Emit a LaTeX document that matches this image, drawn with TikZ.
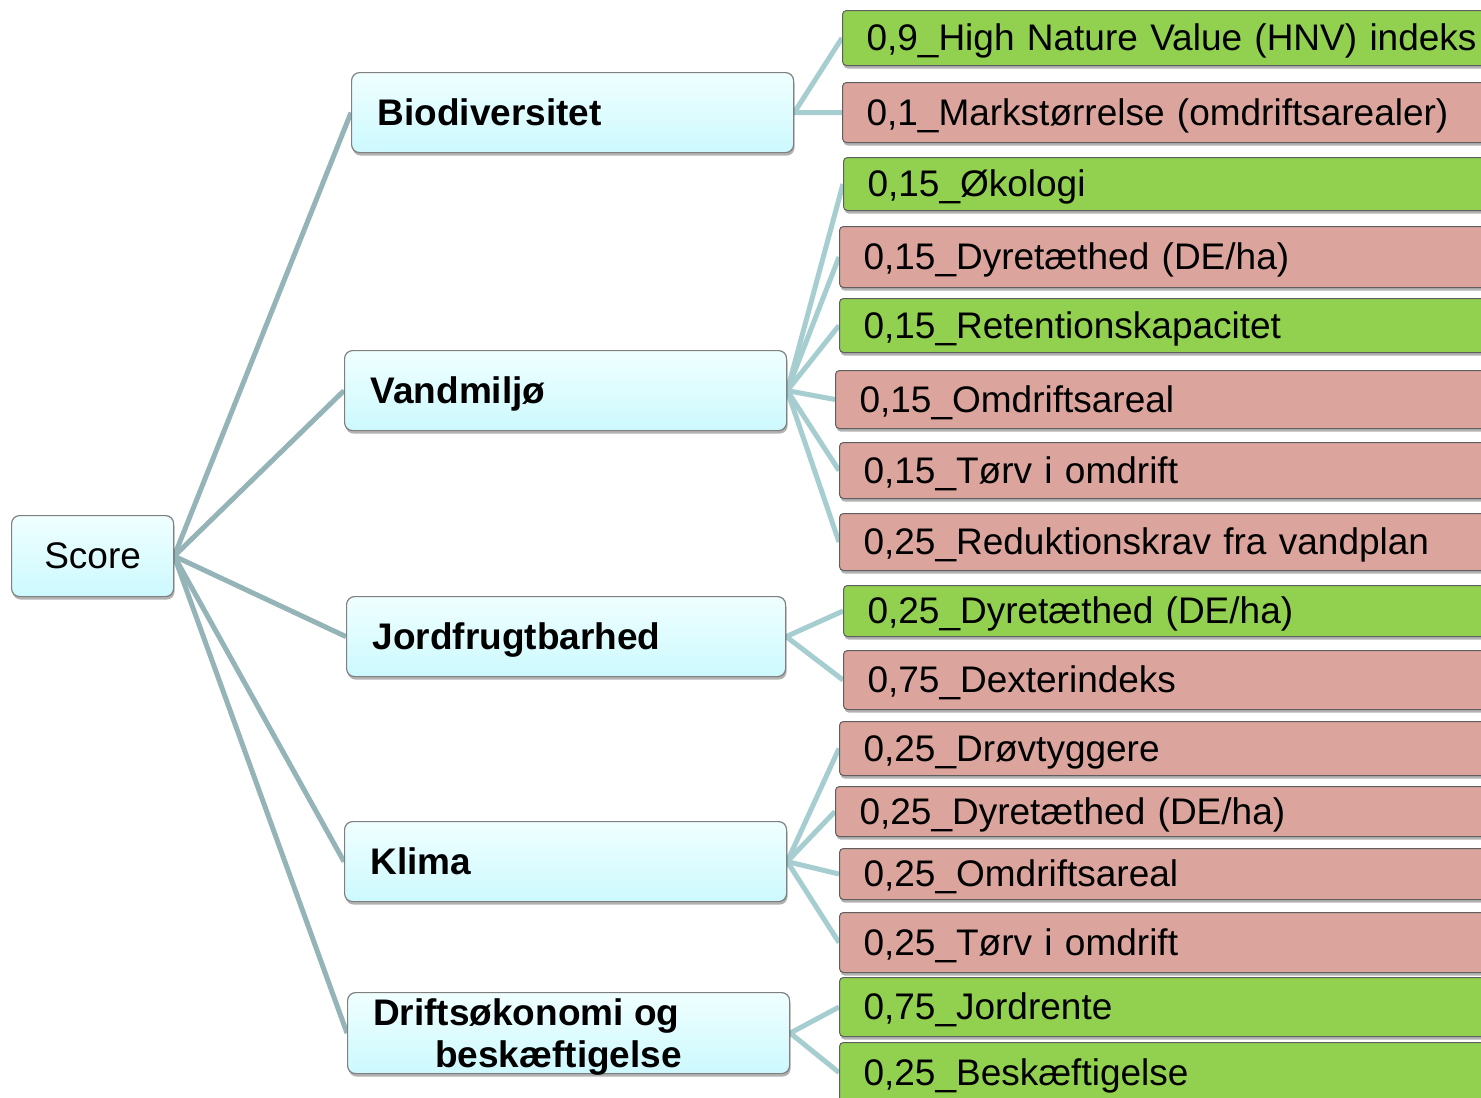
\documentclass[tikz,border=0pt]{standalone}
\usepackage{fontspec}
\setmainfont{Liberation Sans}
\usetikzlibrary{shadows}
\definecolor{cyantop}{RGB}{240,255,255}
\definecolor{cyanbot}{RGB}{204,249,254}
\definecolor{boxborder}{RGB}{128,128,128}
\definecolor{leafborder}{RGB}{95,95,95}
\definecolor{leafgreen}{RGB}{146,208,80}
\definecolor{leafred}{RGB}{219,164,156}
\definecolor{rootcol}{RGB}{149,180,183}
\definecolor{leafcol}{RGB}{166,205,208}
\pgfdeclarelayer{bg}
\pgfsetlayers{bg,main}
\begin{document}
\begin{tikzpicture}[x=1pt,y=-1pt,
  txt/.style={font=\fontsize{37}{42}\selectfont},
  shad/.style={drop shadow={shadow xshift=1pt,shadow yshift=-3pt,opacity=0.3,fill=black}},
  midbox/.style={shad,draw=boxborder,line width=1.2pt,rounded corners=8pt,
    top color=cyantop,bottom color=cyanbot,minimum height=80pt,anchor=north west,
    inner ysep=0pt,align=left,txt,font=\fontsize{37}{42}\selectfont\bfseries,
    text height=30pt,text depth=5pt},
  leaf/.style={shad,draw=leafborder,line width=1pt,rounded corners=4pt,
    anchor=north west,inner xsep=24pt,inner ysep=0pt,text width=672pt,
    minimum width=720pt,align=left,txt,text height=30pt,text depth=5pt},
  gleaf/.style={leaf,fill=leafgreen},
  rleaf/.style={leaf,fill=leafred},
  rootline/.style={draw=rootcol,line width=5pt},
  leafline/.style={draw=leafcol,line width=5pt},
  plaintxt/.style={txt,font=\fontsize{37}{42}\selectfont\bfseries,inner sep=0pt,anchor=base west}
]
\clip (0,0) rectangle (1481,1098);

% root
\node[midbox,minimum width=162pt,minimum height=81pt,align=center,inner xsep=0pt,
  font=\fontsize{37}{42}\selectfont,text width=162pt] (score) at (11,515) {Score};

% middle
\node[midbox,minimum width=442pt,text width=390pt,inner xsep=26pt] (bio) at (351,72) {Biodiversitet};
\node[midbox,minimum width=442pt,text width=390pt,inner xsep=25pt] (van) at (344,350) {Vandmiljø};
\node[midbox,minimum width=439pt,text width=387pt,inner xsep=26pt] (jor) at (346,596) {Jordfrugtbarhed};
\node[midbox,minimum width=442pt,text width=390pt,inner xsep=26pt] (kli) at (344,821) {Klima};
\node[midbox,minimum width=442pt,minimum height=81pt] (dri) at (347,992) {};
\node[plaintxt] (dri1) at (373,1025) {Driftsøkonomi og};
\node[plaintxt] (dri2) at (435,1067) {beskæftigelse};

% leaves
\node[gleaf,minimum height=55pt] (l1) at (842,10) {0,9\_High Nature Value (HNV) indeks};
\node[rleaf,minimum height=60pt] (l2) at (842,82) {0,1\_Markstørrelse (omdriftsarealer)};
\node[gleaf,minimum height=53pt] (l3) at (843,157) {0,15\_Økologi};
\node[rleaf,minimum height=61pt] (l4) at (839,226) {0,15\_Dyretæthed (DE/ha)};
\node[gleaf,minimum height=54pt] (l5) at (839,298) {0,15\_Retentionskapacitet};
\node[rleaf,minimum height=58pt] (l6) at (835,370) {0,15\_Omdriftsareal};
\node[rleaf,minimum height=56pt] (l7) at (839,442) {0,15\_Tørv i omdrift};
\node[rleaf,minimum height=57pt] (l8) at (839,513) {0,25\_Reduktionskrav fra vandplan};
\node[gleaf,minimum height=51pt] (l9) at (843,585) {0,25\_Dyretæthed (DE/ha)};
\node[rleaf,minimum height=59pt] (l10) at (843,650) {0,75\_Dexterindeks};
\node[rleaf,minimum height=54pt] (l11) at (839,721) {0,25\_Drøvtyggere};
\node[rleaf,minimum height=50pt] (l12) at (835,786) {0,25\_Dyretæthed (DE/ha)};
\node[rleaf,minimum height=51pt] (l13) at (839,848) {0,25\_Omdriftsareal};
\node[rleaf,minimum height=60pt] (l14) at (839,912) {0,25\_Tørv i omdrift};
\node[gleaf,minimum height=59pt] (l15) at (839,977) {0,75\_Jordrente};
\node[gleaf,minimum height=60pt] (l16) at (839,1042) {0,25\_Beskæftigelse};

\begin{pgfonlayer}{bg}
  \fill[white] (0,0) rectangle (1481,1098);
  \foreach \m in {bio,van,jor,kli,dri}
    \draw[rootline] (score.east) -- (\m.west);
  \foreach \l in {l1,l2} \draw[leafline] (bio.east) -- (\l.west);
  \foreach \l in {l3,l4,l5,l6,l7,l8} \draw[leafline] (van.east) -- (\l.west);
  \foreach \l in {l9,l10} \draw[leafline] (jor.east) -- (\l.west);
  \foreach \l in {l11,l12,l13,l14} \draw[leafline] (kli.east) -- (\l.west);
  \foreach \l in {l15,l16} \draw[leafline] (dri.east) -- (\l.west);
\end{pgfonlayer}
\end{tikzpicture}
\end{document}
